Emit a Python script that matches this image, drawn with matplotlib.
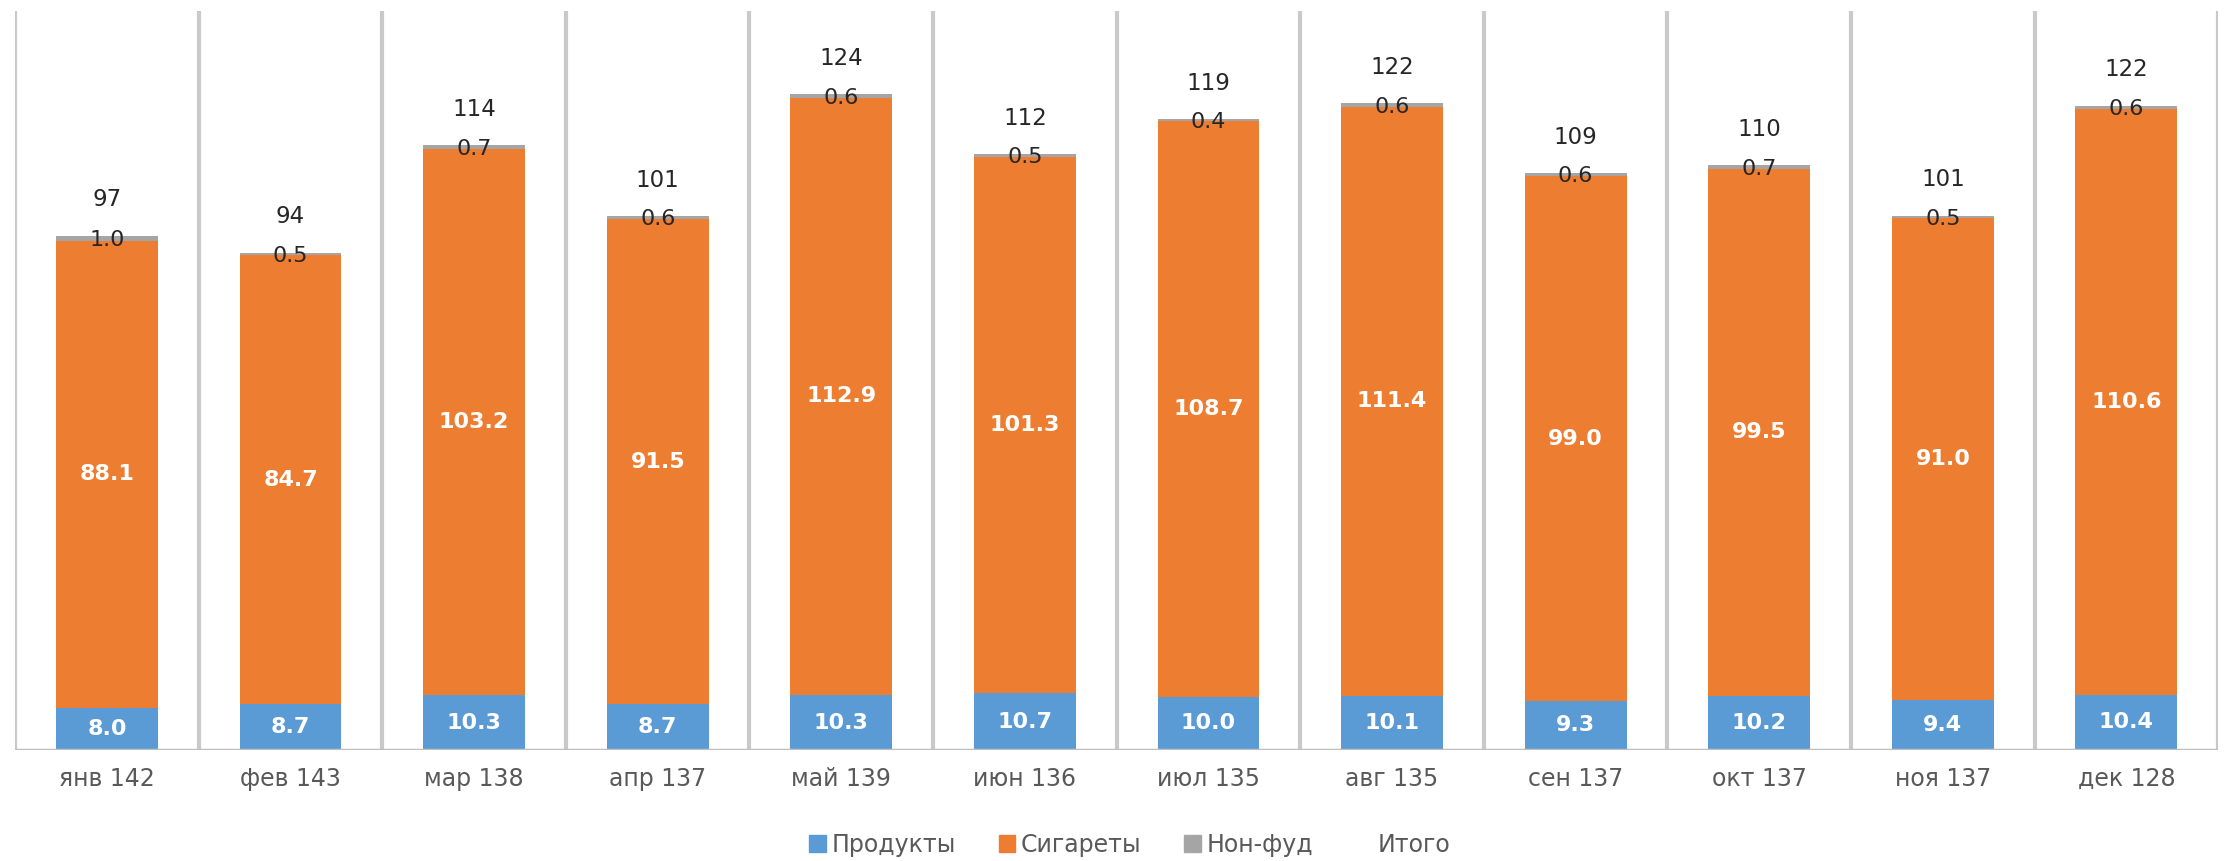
import matplotlib.pyplot as plt
from matplotlib.patches import Patch
from matplotlib.lines import Line2D
import numpy as np

months = ["янв 142", "фев 143", "мар 138", "апр 137", "май 139", "июн 136",
          "июл 135", "авг 135", "сен 137", "окт 137", "ноя 137", "дек 128"]
products = [8.0, 8.7, 10.3, 8.7, 10.3, 10.7, 10.0, 10.1, 9.3, 10.2, 9.4, 10.4]
cigarettes = [88.1, 84.7, 103.2, 91.5, 112.9, 101.3, 108.7, 111.4, 99.0, 99.5, 91.0, 110.6]
nonfood = [1.0, 0.5, 0.7, 0.6, 0.6, 0.5, 0.4, 0.6, 0.6, 0.7, 0.5, 0.6]
totals = [97, 94, 114, 101, 124, 112, 119, 122, 109, 110, 101, 122]

c_blue = "#5B9BD5"
c_orange = "#ED7D31"
c_grey = "#A5A5A5"

plt.rcParams['font.family'] = ['DejaVu Sans']

fig = plt.figure(figsize=(22.26, 8.61), dpi=100)
ax = fig.add_axes([0.0068, 0.129, 0.9897, 0.858])

x = np.arange(len(months))
w = 0.555
p = np.array(products)
c = np.array(cigarettes)
n = np.array(nonfood)

ax.bar(x, p, w, color=c_blue)
ax.bar(x, c, w, bottom=p, color=c_orange)
ax.bar(x, n, w, bottom=p + c, color=c_grey)

# separators between months
for b in np.arange(-0.5, len(months) + 0.5, 1):
    ax.axvline(b, color="#C9C9C9", lw=3, zorder=0)
ax.axhline(0, color="#BFBFBF", lw=2.5, zorder=3)

for i in x:
    ax.text(i, p[i] / 2, f"{p[i]:.1f}", ha="center", va="center",
            color="white", fontsize=16, fontweight="bold")
    ax.text(i, p[i] + c[i] / 2, f"{c[i]:.1f}", ha="center", va="center",
            color="white", fontsize=16, fontweight="bold")
    ax.text(i, p[i] + c[i] + n[i] / 2 - 0.3, f"{n[i]:.1f}", ha="center", va="center",
            color="#262626", fontsize=16)
    ax.annotate(str(totals[i]), (i, p[i] + c[i] + n[i]), xytext=(0, 26),
                textcoords="offset points", ha="center", va="center",
                color="#262626", fontsize=16.5)

ax.set_xlim(-0.5, len(months) - 0.5)
ax.set_ylim(0, 139.5)
ax.set_xticks(x)
ax.set_xticklabels(months, fontsize=17, color="#595959")
ax.tick_params(axis="x", length=0, pad=12)
ax.set_yticks([])
for s in ax.spines.values():
    s.set_visible(False)

handles = [Patch(color=c_blue), Patch(color=c_orange), Patch(color=c_grey),
           Line2D([], [], color="none")]
labels = ["Продукты", "Сигареты", "Нон-фуд", "Итого"]
leg = fig.legend(handles, labels, loc="center", bbox_to_anchor=(1130 / 2226, 1 - 845 / 861),
                 ncol=4, frameon=False, fontsize=17, handlelength=0.7, handleheight=0.7,
                 handletextpad=0.25, columnspacing=1.8)
for t in leg.get_texts():
    t.set_color("#595959")

fig.savefig("out.png", dpi=100)
